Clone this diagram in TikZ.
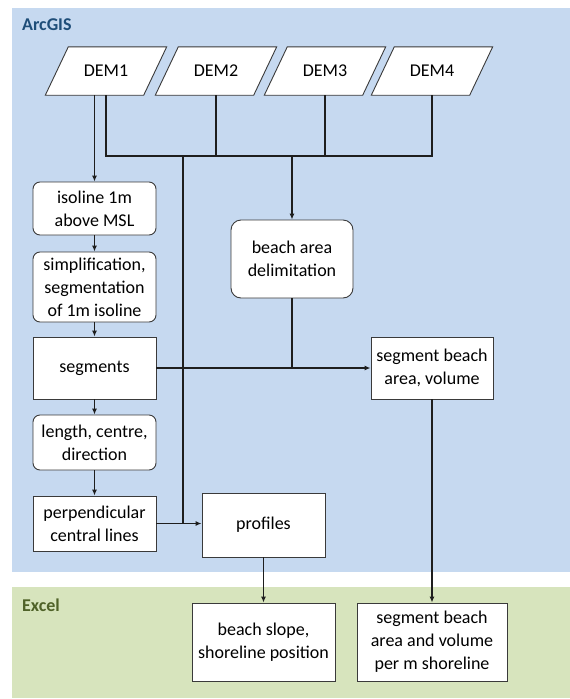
\documentclass[tikz,border=0pt]{standalone}
\usepackage{fontspec}
\setmainfont{Carlito}
\usetikzlibrary{arrows.meta,backgrounds}
\definecolor{bluebg}{HTML}{C6D9F0}
\definecolor{greenbg}{HTML}{D7E4BD}
\definecolor{bluetxt}{HTML}{1F4E79}
\definecolor{greentxt}{HTML}{4F6228}
\definecolor{boxline}{HTML}{3A3A3A}
\definecolor{conn}{HTML}{1E1E1E}
\tikzset{
  txt/.style={font=\fontsize{18}{23}\selectfont, align=center, inner sep=2pt},
  sqbox/.style={txt, draw=boxline, line width=0.9pt, fill=white, minimum width=123pt},
  rdbox/.style={sqbox, rounded corners=7pt},
  demtext/.style={txt, minimum width=98pt, minimum height=48pt, inner sep=0pt},
  demshape/.style={draw=boxline, line width=0.9pt, fill=white},
  link/.style={draw=conn, line width=1.4pt},
  arr/.style={link, -{Latex[length=6pt,width=5pt]}},
  paneltitle/.style={font=\fontsize{18}{20}\selectfont\bfseries, anchor=west, inner sep=0pt}
}
\begin{document}
\begin{tikzpicture}[x=1pt,y=-1pt]
\useasboundingbox (0,0) rectangle (570,699);
% panels
\begin{scope}[on background layer]
\fill[bluebg] (12,8) rectangle (570,572);
\fill[greenbg] (12,587) rectangle (570,698);
\end{scope}
\node[paneltitle, text=bluetxt] (arcgis) at (22,25) {ArcGIS};
\node[paneltitle, text=greentxt] (excel) at (22,605) {Excel};
% DEMs
\node[demtext] (d1) at (106,71) {DEM1};
\node[demtext] (d2) at (216,71) {DEM2};
\node[demtext] (d3) at (325,71) {DEM3};
\node[demtext] (d4) at (432,71) {DEM4};
\begin{scope}[on background layer]
\foreach \d in {d1,d2,d3,d4}{
  \draw[demshape] ([xshift=-11.5pt]\d.south west) -- ([xshift=-11.5pt]\d.south east)
     -- ([xshift=11.5pt]\d.north east) -- ([xshift=11.5pt]\d.north west) -- cycle;
}
\end{scope}
% left column
\node[rdbox, minimum height=53pt] (iso) at (94.5,208.5) {isoline 1m\\above MSL};
\node[rdbox, minimum height=70pt] (simp) at (94.5,287) {simplification,\\segmentation\\of 1m isoline};
\node[sqbox, minimum height=62pt] (seg) at (94.5,368) {segments};
\node[rdbox, minimum height=55pt] (len) at (94.5,442.5) {length, centre,\\direction};
\node[sqbox, minimum height=55pt] (perp) at (94.5,523.5) {perpendicular\\central lines};
% middle / right
\node[sqbox, rounded corners=10pt, minimum width=122pt, minimum height=78pt] (beach) at (292,259) {beach area\\delimitation};
\node[sqbox, minimum width=122pt, minimum height=62pt] (sba) at (432,368) {segment beach\\area, volume};
\node[sqbox, minimum height=64pt] (prof) at (263.5,525) {profiles};
\node[sqbox, minimum width=143pt, minimum height=78pt] (slope) at (263.5,642) {beach slope,\\shoreline position};
\node[sqbox, minimum width=150pt, minimum height=78pt] (perm) at (432,642) {segment beach\\area and volume\\per m shoreline};
% bus
\coordinate (busy) at (0,156);
\coordinate (jx) at (183,0);
\draw[link] (d1.south) -- (d1.center |- busy) -- (d4.center |- busy) -- (d4.south);
\draw[link] (d2.south) -- (d2.center |- busy);
\draw[link] (d3.south) -- (d3.center |- busy);
\draw[arr] (beach.north |- busy) -- (beach.north);
\draw[link] (jx |- busy) -- (jx |- perp.east);
% left column arrows
\draw[arr] ([xshift=-11.5pt]d1.south) -- (iso.north);
\draw[arr] (iso) -- (simp);
\draw[arr] (simp) -- (seg);
\draw[arr] (seg) -- (len);
\draw[arr] (len) -- (perp);
% horizontal links
\draw[arr] (seg.east) -- (sba.west);
\draw[link] (beach.south) -- (beach.south |- seg.east);
\draw[arr] (perp.east) -- (perp.east -| prof.west);
\draw[arr] (prof.south) -- (slope.north);
\draw[arr] (sba.south) -- (perm.north);
\end{tikzpicture}
\end{document}
